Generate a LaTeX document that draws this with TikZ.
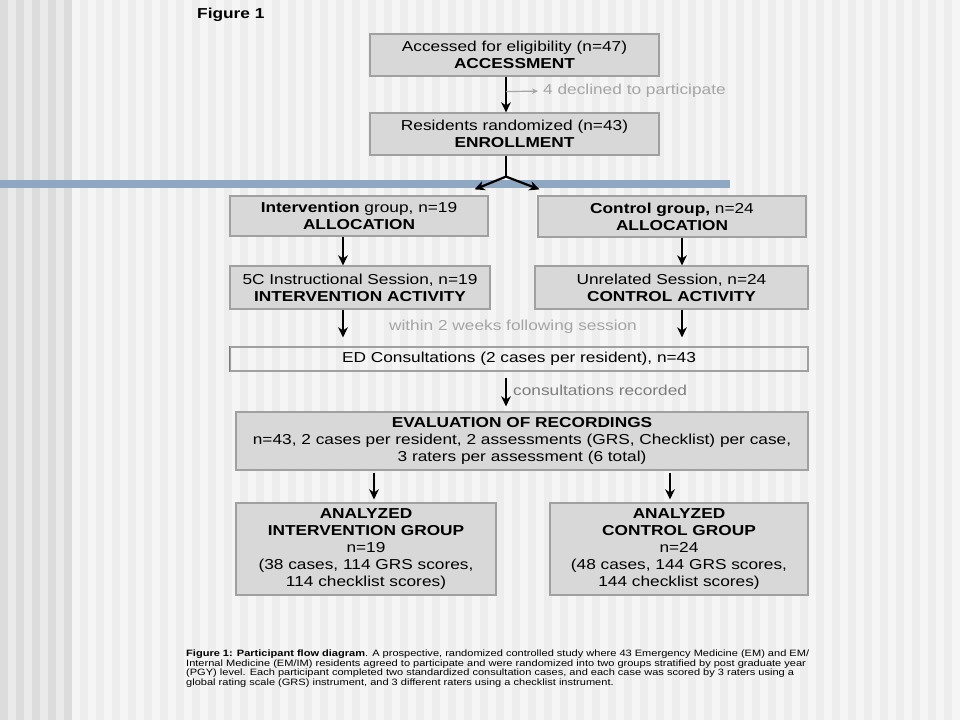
\documentclass[tikz,border=0pt]{standalone}
\usepackage{fontspec}
\setmainfont[FakeStretch=1.2]{Liberation Sans}
\usetikzlibrary{arrows.meta,calc}
\definecolor{bgA}{RGB}{245,245,245}
\definecolor{bgB}{RGB}{237,237,237}
\definecolor{bgC}{RGB}{234,234,234}
\definecolor{bgD}{RGB}{220,220,220}
\definecolor{barblue}{RGB}{142,168,195}
\definecolor{boxfill}{RGB}{216,216,216}
\definecolor{boxline}{RGB}{160,160,160}
\definecolor{lightgraytext}{RGB}{165,165,165}
\definecolor{midgraytext}{RGB}{125,125,125}
\definecolor{edgreen}{RGB}{40,180,40}
\begin{document}
\begin{tikzpicture}[x=1pt,y=-1pt,
  box/.style={draw=boxline, fill=boxfill, line width=1.2pt, inner sep=0pt, align=center,
    font=\fontsize{14.4}{17}\selectfont, execute at begin node={\rule{0pt}{17pt}}},
  openbox/.style={draw=boxline, line width=1.2pt, inner sep=0pt, align=center,
    font=\fontsize{14.4}{17}\selectfont},
  arr/.style={-{Stealth[length=10pt,width=9.5pt,inset=3pt]}, line width=2.2pt, black},
  plainline/.style={line width=2.2pt, black},
  grayarr/.style={-{Stealth[length=6pt,width=5.5pt]}, line width=1.2pt, lightgraytext},
  note/.style={inner sep=0pt, font=\fontsize{14.4}{17}\selectfont},
  captext/.style={inner sep=0pt, anchor=west, font=\fontsize{9.2}{11}\selectfont}]
\useasboundingbox (0,0) rectangle (960,720);
% background stripes
\fill[bgA] (0,0) rectangle (960,720);
\foreach \i in {5,...,59} \fill[bgB] (16*\i,0) rectangle (16*\i+8,720);
\fill[bgC] (0,0) rectangle (72,720);
\foreach \i in {0,...,4} \fill[bgD] (16*\i,0) rectangle (16*\i+8,720);
% blue bar
\fill[barblue] (0,180) rectangle (730,187.5);

\node[note, anchor=west] (fig) at (197,15) {\textbf{Figure 1}};

\node[box, minimum width=289pt, minimum height=42pt] (acc) at (514.5,55)
  {Accessed for eligibility (n=47)\\\textbf{ACCESSMENT}};
\node[box, minimum width=289pt, minimum height=42pt] (enr) at (514.5,134)
  {Residents randomized (n=43)\\\textbf{ENROLLMENT}};
\node[note, anchor=west, text=lightgraytext] (declined) at (543,91) {4 declined to participate};

\node[box, minimum width=258pt, minimum height=40pt] (int) at (359,216)
  {\textbf{Intervention} group, n=19\\\textbf{ALLOCATION}};
\node[box, minimum width=268pt, minimum height=41pt] (con) at (672,216.5)
  {\textbf{Control group,} n=24\\\textbf{ALLOCATION}};

\node[box, minimum width=260pt, minimum height=43pt] (act1) at (360,287.5)
  {5C Instructional Session, n=19\\\textbf{INTERVENTION ACTIVITY}};
\node[box, minimum width=273pt, minimum height=43pt] (act2) at (671.5,287.5)
  {Unrelated Session, n=24\\\textbf{CONTROL ACTIVITY}};

\node[note, text=lightgraytext] (within) at (513,327) {within 2 weeks following session};

\node[openbox, minimum width=578pt, minimum height=24pt] (ed) at (519,359)
  {ED Consultations (2 cases per resident), n=43};
\draw[edgreen, line width=1pt] (ed.north west) -- (ed.south west);

\node[note, anchor=west, text=midgraytext] (rec) at (513,390) {consultations recorded};

\node[box, minimum width=572pt, minimum height=58pt] (eval) at (522,441)
  {\textbf{EVALUATION OF RECORDINGS}\\n=43, 2 cases per resident, 2 assessments (GRS, Checklist) per case,\\3 raters per assessment (6 total)};

\node[box, minimum width=260pt, minimum height=92pt] (an1) at (366,549)
  {\textbf{ANALYZED}\\\textbf{INTERVENTION GROUP}\\n=19\\(38 cases, 114 GRS scores,\\114 checklist scores)};
\node[box, minimum width=258pt, minimum height=92pt] (an2) at (679,549)
  {\textbf{ANALYZED}\\\textbf{CONTROL GROUP}\\n=24\\(48 cases, 144 GRS scores,\\144 checklist scores)};

% connectors
\draw[arr] ([xshift=-8.5pt]acc.south) -- ([xshift=-8.5pt]enr.north);
\draw[grayarr, shorten >=5pt] ($(acc.south)+(-8.5,15)$) -- (declined.west);
\coordinate (split) at ($(enr.south)+(-8.5,21)$);
\draw[plainline] ([xshift=-8.5pt]enr.south) -- (split);
\draw[arr] (split) -- ([xshift=-14pt,yshift=6pt]int.north east);
\draw[arr] (split) -- ([xshift=2pt,yshift=6pt]con.north west);
\draw[arr] ([xshift=-16pt]int.south) -- ([xshift=-16pt]int.south |- act1.north);
\draw[arr] ([xshift=10pt]con.south) -- ([xshift=10pt]con.south |- act2.north);
\draw[arr, shorten >=9pt] ([xshift=-17pt]act1.south) -- ([xshift=-17pt]act1.south |- ed.north);
\draw[arr, shorten >=9pt] ([xshift=10.5pt]act2.south) -- ([xshift=10.5pt]act2.south |- ed.north);
\draw[arr, shorten <=6pt, shorten >=5pt] ([xshift=-13pt]ed.south) -- ([xshift=-13pt]ed.south |- eval.north);
\draw[arr, shorten <=2pt, shorten >=3pt] ([xshift=8pt]an1.north |- eval.south) -- ([xshift=8pt]an1.north);
\draw[arr, shorten <=2pt, shorten >=3pt] ([xshift=-9pt]an2.north |- eval.south) -- ([xshift=-9pt]an2.north);

% caption
\begin{scope}
\clip (180,630) rectangle (814,700);
\node[captext] (c1) at (186,654) {\textbf{Figure 1: Participant flow diagram}. A prospective, randomized controlled study where 43 Emergency Medicine (EM) and EM/};
\node[captext] (c2) at (186,664) {Internal Medicine (EM/IM) residents agreed to participate and were randomized into two groups stratified by post graduate year};
\node[captext] (c3) at (186,673.5) {(PGY) level. Each participant completed two standardized consultation cases, and each case was scored by 3 raters using a};
\node[captext] (c4) at (186,683) {global rating scale (GRS) instrument, and 3 different raters using a checklist instrument.};
\end{scope}
\end{tikzpicture}
\end{document}
